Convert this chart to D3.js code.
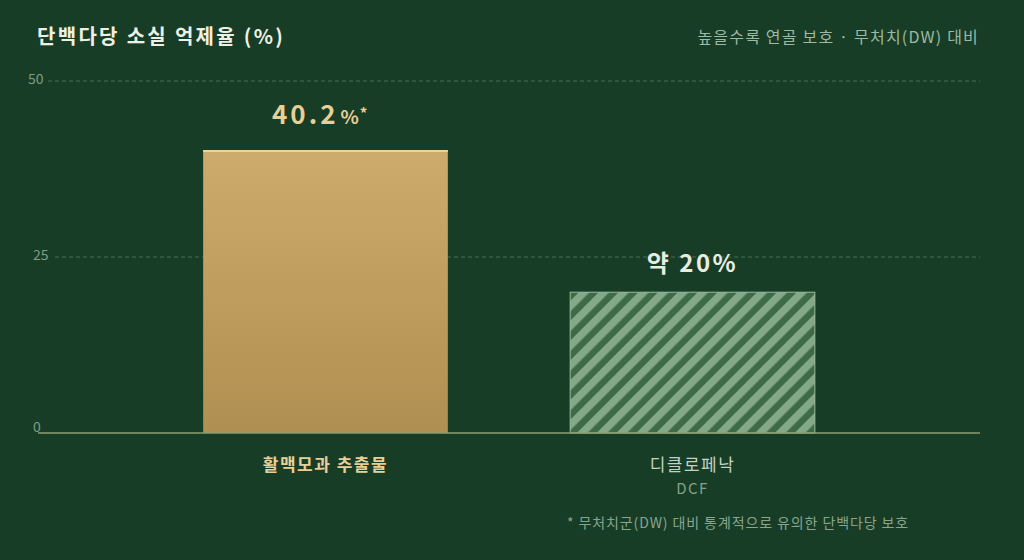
<!DOCTYPE html>
<html>
<head>
<meta charset="utf-8">
<script src="https://cdn.jsdelivr.net/npm/d3@7"></script>
<style>
  html, body { margin: 0; padding: 0; background: #173d27; }
  svg { display: block; font-family: "Noto Sans CJK KR", "Noto Sans", sans-serif; }
</style>
</head>
<body>
<div id="chart"></div>
<script>
var categories = ["활맥모과 추출물", "디클로페낙"];
var subLabels = ["", "DCF"];
var values = [40.2, 20];
var valueLabels = ["40.2", "약 20%"];
var yTicks = [0, 25, 50];

const width = 1024, height = 560;
const margin = {left: 38, right: 44, top: 81, bottom: 127};

var svg = d3.select('#chart')
    .append('svg')
    .attr('width', width)
    .attr('height', height);

svg.append('rect')
    .attr('width', width)
    .attr('height', height)
    .attr('fill', '#173d27');

var defs = svg.append('defs');

// gold gradient for the main bar
var grad = defs.append('linearGradient')
    .attr('id', 'gold')
    .attr('x1', 0).attr('y1', 0).attr('x2', 0).attr('y2', 1);
grad.append('stop').attr('offset', '0%').attr('stop-color', '#cdab6c');
grad.append('stop').attr('offset', '100%').attr('stop-color', '#b08f52');

// diagonal hatch for the comparison bar
var hatch = defs.append('pattern')
    .attr('id', 'hatch')
    .attr('patternUnits', 'userSpaceOnUse')
    .attr('width', 14)
    .attr('height', 14)
    .attr('patternTransform', 'rotate(45)');
hatch.append('rect')
    .attr('width', 14).attr('height', 14)
    .attr('fill', '#3e6a48');
hatch.append('rect')
    .attr('width', 7.5).attr('height', 14)
    .attr('fill', '#84a98a');

var x = d3.scaleBand()
    .domain(categories)
    .range([margin.left, width - margin.right])
    .paddingInner(1/3)
    .paddingOuter(0.45);

var y = d3.scaleLinear()
    .domain([0, 50])
    .range([height - margin.bottom, margin.top]);

// title + subtitle
svg.append('text')
    .attr('x', 37)
    .attr('y', 44)
    .attr('fill', '#eef0e4')
    .attr('font-size', '20px')
    .attr('font-weight', 'bold')
    .attr('letter-spacing', '2.3px')
    .text('단백다당 소실 억제율 (%)');

svg.append('text')
    .attr('x', 979)
    .attr('y', 43)
    .attr('text-anchor', 'end')
    .attr('fill', '#9fb9a2')
    .attr('font-size', '16px')
    .attr('letter-spacing', '1.2px')
    .text('높을수록 연골 보호 · 무처치(DW) 대비');

// gridlines
svg.selectAll('.grid')
    .data(yTicks.filter(d => d > 0))
    .enter()
    .append('line')
    .attr('class', 'grid')
    .attr('x1', d => d == 50 ? 48 : 55)
    .attr('x2', width - margin.right)
    .attr('y1', d => y(d))
    .attr('y2', d => y(d))
    .attr('stroke', '#4a6e52')
    .attr('stroke-width', 1)
    .attr('stroke-dasharray', '4 3');

svg.selectAll('.tick-label')
    .data(yTicks)
    .enter()
    .append('text')
    .attr('class', 'tick-label')
    .attr('x', d => d == 50 ? 28 : 33)
    .attr('y', d => d == 0 ? y(d) - 1 : y(d) + 3)
    .attr('fill', '#7f9c84')
    .attr('font-size', '14px')
    .text(d => d);

// bars
svg.selectAll('.bar')
    .data(values)
    .enter()
    .append('rect')
    .attr('class', 'bar')
    .attr('x', (d, i) => x(categories[i]))
    .attr('y', d => y(d))
    .attr('width', x.bandwidth())
    .attr('height', d => y(0) - y(d))
    .attr('fill', (d, i) => i == 0 ? 'url(#gold)' : 'url(#hatch)')
    .attr('stroke', (d, i) => i == 0 ? 'none' : '#9cbc9c')
    .attr('stroke-width', 1);

// highlight on top of the gold bar
svg.append('line')
    .attr('x1', x(categories[0]))
    .attr('x2', x(categories[0]) + x.bandwidth())
    .attr('y1', y(values[0]) + 1)
    .attr('y2', y(values[0]) + 1)
    .attr('stroke', '#ecd398')
    .attr('stroke-width', 2);

// baseline
svg.append('line')
    .attr('x1', margin.left)
    .attr('x2', width - margin.right)
    .attr('y1', y(0))
    .attr('y2', y(0))
    .attr('stroke', '#8c9c72')
    .attr('stroke-width', 1.5);

// value labels
var v0 = svg.append('text')
    .attr('x', 272)
    .attr('y', y(values[0]) - 26)
    .attr('fill', '#e8cf96')
    .attr('font-weight', 'bold');
v0.append('tspan').attr('font-size', '26px').attr('letter-spacing', '3px').text(valueLabels[0]);
v0.append('tspan').attr('font-size', '19px').attr('dx', 2).text('%');
v0.append('tspan').attr('font-size', '15px').attr('dx', 1).attr('dy', -5).text('*');

svg.append('text')
    .attr('x', x(categories[1]) + x.bandwidth() / 2)
    .attr('y', y(values[1]) - 20)
    .attr('text-anchor', 'middle')
    .attr('fill', '#e9ece0')
    .attr('font-size', '24px')
    .attr('font-weight', 'bold')
    .attr('letter-spacing', '2.5px')
    .text(valueLabels[1]);

// category labels
svg.selectAll('.cat')
    .data(categories)
    .enter()
    .append('text')
    .attr('class', 'cat')
    .attr('x', d => x(d) + x.bandwidth() / 2)
    .attr('y', 471)
    .attr('text-anchor', 'middle')
    .attr('fill', (d, i) => i == 0 ? '#e8cf96' : '#c3d2c3')
    .attr('font-size', '17px')
    .attr('letter-spacing', '1.5px')
    .attr('font-weight', (d, i) => i == 0 ? 'bold' : 'normal')
    .text(d => d);

svg.selectAll('.sub')
    .data(subLabels)
    .enter()
    .append('text')
    .attr('class', 'sub')
    .attr('x', (d, i) => x(categories[i]) + x.bandwidth() / 2)
    .attr('y', 494)
    .attr('text-anchor', 'middle')
    .attr('fill', '#86a28a')
    .attr('font-size', '15px')
    .attr('letter-spacing', '1.5px')
    .text(d => d);

// footnote
svg.append('text')
    .attr('x', 567)
    .attr('y', 528)
    .attr('fill', '#8aa58e')
    .attr('font-size', '14px')
    .attr('letter-spacing', '0.9px')
    .text('* 무처치군(DW) 대비 통계적으로 유의한 단백다당 보호');
</script>
</body>
</html>
